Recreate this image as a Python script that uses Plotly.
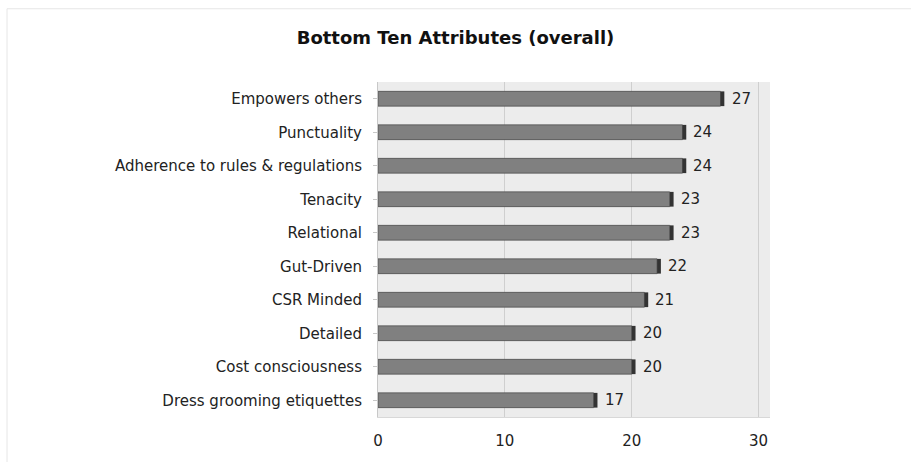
import plotly.graph_objects as go

categories = ["Empowers others", "Punctuality", "Adherence to rules & regulations",
              "Tenacity", "Relational", "Gut-Driven", "CSR Minded", "Detailed",
              "Cost consciousness", "Dress grooming etiquettes"]
values = [27, 24, 24, 23, 23, 22, 21, 20, 20, 17]
x_ticks = [0, 10, 20, 30]

# plot bottom-to-top so first category is on top
cats = categories[::-1]
vals = values[::-1]

FONT = "DejaVu Sans"

fig = go.Figure()
fig.add_trace(go.Bar(
    y=cats, x=vals, orientation="h", width=0.44,
    marker=dict(color="#808080", line=dict(color="#5a5a5a", width=1)),
    hoverinfo="x+y", showlegend=False,
))
# dark end face to suggest 3D
fig.add_trace(go.Bar(
    y=cats, x=[0.3] * len(vals), base=vals, orientation="h", width=0.44,
    marker=dict(color="#333333", line=dict(width=0)),
    hoverinfo="skip", showlegend=False,
))

for c, v in zip(cats, vals):
    fig.add_annotation(x=v, y=c, text=str(v), showarrow=False, xanchor="left",
                       xshift=9, font=dict(family=FONT, size=15, color="#222222"))

fig.update_layout(
    width=911, height=462,
    margin=dict(l=378, r=141, t=82, b=37),
    paper_bgcolor="white",
    plot_bgcolor="#ececec",
    barmode="overlay",
    title=dict(text="<b>Bottom Ten Attributes (overall)</b>", x=0.5, xanchor="center",
               y=1 - 38 / 462, yanchor="middle",
               font=dict(family=FONT, size=18, color="#111111")),
    xaxis=dict(range=[0, 30.9], tickvals=x_ticks, showgrid=True,
               gridcolor="#cfcfcf", gridwidth=1, zeroline=False,
               tickfont=dict(family=FONT, size=15, color="#222222"),
               showline=True, linecolor="#d8d8d8", ticks="", ticklabelstandoff=10),
    yaxis=dict(categoryorder="array", categoryarray=cats, range=[-0.5, 9.5],
               tickfont=dict(family=FONT, size=15, color="#222222"),
               showline=True, linecolor="#c8c8c8", ticks="outside", ticklen=4,
               tickcolor="#c8c8c8", ticklabelstandoff=8),
    shapes=[dict(type="rect", xref="paper", yref="paper", x0=-371 / 392, x1=1.5,
                 y0=-0.2, y1=1 + 75 / 343, line=dict(color="#e6e6e6", width=1),
                 fillcolor="rgba(0,0,0,0)", layer="below")],
)

fig.write_html("out.html")
